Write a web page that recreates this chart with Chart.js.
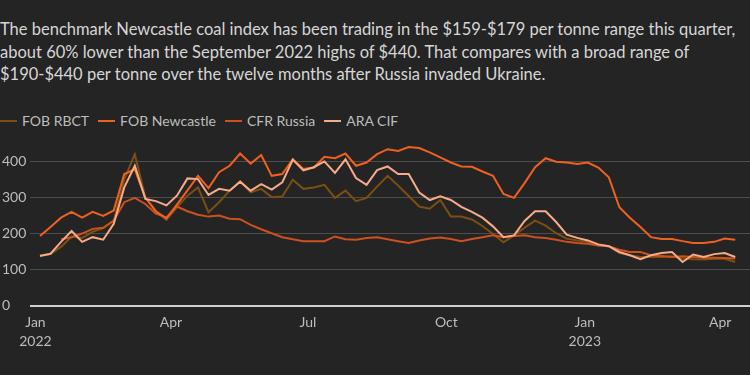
<!DOCTYPE html>
<html>
<head>
<meta charset="utf-8">
<script src="https://cdn.jsdelivr.net/npm/chart.js@4"></script>
<style>
  body {
    margin: 0;
    width: 750px;
    height: 375px;
    overflow: hidden;
    position: relative;
    background: #242424;
    font-family: Lato, "Noto Sans", sans-serif;
  }
  .subtitle {
    position: absolute;
    left: 0;
    top: 18px;
    font-size: 16.5px;
    line-height: 22.5px;
    color: #d6d6d6;
    white-space: nowrap;
  }
  .legend {
    position: absolute;
    left: 0;
    top: 112px;
    display: flex;
    align-items: center;
    font-size: 14px;
    color: #bdbdbd;
  }
  .legend span.item {
    display: flex;
    align-items: center;
    margin-right: 9px;
  }
  .legend i {
    display: inline-block;
    width: 17px;
    height: 2px;
    margin-right: 5px;
  }
  .chart-box {
    position: absolute;
    left: 0;
    top: 135px;
    width: 750px;
    height: 240px;
  }
</style>
</head>
<body>
<div class="subtitle">The benchmark Newcastle coal index has been trading in the $159-$179 per tonne range this quarter,<br>about 60% lower than the September 2022 highs of $440. That compares with a broad range of<br>$190-$440 per tonne over the twelve months after Russia invaded Ukraine.</div>
<div class="legend" id="legend"></div>
<div class="chart-box"><canvas id="coalChart" width="750" height="240"></canvas></div>
<script>
// weekly prices, $/tonne, first week starts 3 days into 2022
const firstDay = 3;
const weekStep = 7;

const fobRbct = [140, 143, 163, 192, 188, 205, 215, 235, 350, 420, 300, 262, 238, 273, 305, 328, 259, 287, 319, 345,
  314, 324, 301, 303, 349, 324, 328, 335, 299, 319, 290, 299, 330, 360, 333, 304, 275, 269, 293, 247,
  247, 239, 221, 199, 176, 195, 216, 236, 222, 201, 186, 181, 177, 167, 165, 146, 140, 135, 135, 135,
  137, 131, 129, 128, 130, 130, 121];

const fobNewcastle = [193, 218, 244, 260, 244, 260, 249, 264, 365, 378, 300, 262, 242, 280, 320, 360, 326, 370, 388, 422,
  394, 418, 360, 365, 406, 379, 383, 413, 409, 422, 388, 397, 420, 434, 429, 440, 437, 425, 411, 397,
  386, 385, 372, 360, 310, 299, 340, 384, 409, 399, 397, 393, 397, 383, 356, 273, 244, 218, 190, 185,
  185, 179, 174, 174, 177, 186, 183];

const cfrRussia = [null, null, 184, 190, 200, 213, 216, 236, 287, 299, 282, 255, 245, 275, 262, 252, 247, 250, 241, 240,
  224, 212, 201, 190, 184, 179, 179, 179, 192, 184, 183, 188, 190, 184, 179, 174, 181, 186, 189, 185,
  179, 185, 190, 195, 190, 193, 195, 190, 188, 183, 177, 174, 172, 167, 165, 155, 149, 149, 140, 138,
  135, 137, 135, 133, 133, 132, 131];

const araCif = [138, 144, 177, 207, 177, 190, 183, 227, 328, 388, 296, 290, 278, 305, 353, 351, 307, 324, 319, 344,
  319, 337, 322, 342, 405, 375, 384, 400, 368, 406, 354, 335, 376, 386, 365, 365, 314, 293, 303, 293,
  274, 260, 244, 220, 190, 195, 235, 262, 262, 232, 197, 188, 181, 170, 165, 149, 140, 129, 140, 146,
  149, 121, 142, 135, 143, 146, 135];

// x ticks in days since 1 Jan 2022
const xTickDays = [0, 90, 181, 273, 365, 455];
const xTickLabels = [["Jan", "2022"], "Apr", "Jul", "Oct", ["Jan", "2023"], "Apr"];
const yTicks = [0, 100, 200, 300, 400];

const series = [
  { label: "FOB RBCT", values: fobRbct, color: "#7b4f12", order: 3 },
  { label: "FOB Newcastle", values: fobNewcastle, color: "#f0601e", order: 1 },
  { label: "CFR Russia", values: cfrRussia, color: "#cc511c", order: 2 },
  { label: "ARA CIF", values: araCif, color: "#f7ab88", order: 0 },
];

const legend = document.getElementById("legend");
legend.innerHTML = series
  .map((s) => `<span class="item"><i style="background:${s.color}"></i>${s.label}</span>`)
  .join("");

const toPoints = (values) =>
  values.map((v, i) => ({ x: firstDay + i * weekStep, y: v }));

new Chart(document.getElementById("coalChart"), {
  type: "line",
  data: {
    datasets: series.map((s) => ({
      label: s.label,
      data: toPoints(s.values),
      borderColor: s.color,
      backgroundColor: s.color,
      borderWidth: 2,
      pointRadius: 0,
      tension: 0,
      order: s.order,
    })),
  },
  options: {
    responsive: false,
    animation: false,
    layout: { padding: { top: 7.6, right: 0, left: 2, bottom: 0 } },
    plugins: {
      legend: { display: false },
      tooltip: { enabled: false },
    },
    scales: {
      x: {
        type: "linear",
        min: -3.64,
        max: 474.8,
        afterBuildTicks: (axis) => {
          axis.ticks = xTickDays.map((v) => ({ value: v }));
        },
        afterFit: (axis) => {
          axis.height = 69.3;
        },
        grid: { display: false, drawTicks: false },
        border: { display: false },
        ticks: {
          autoSkip: false,
          maxRotation: 0,
          padding: 8,
          color: "#bdbdbd",
          font: { family: "Lato", size: 14, lineHeight: 1.3 },
          callback: (value) => xTickLabels[xTickDays.indexOf(value)],
        },
      },
      y: {
        min: 0,
        max: 450,
        afterBuildTicks: (axis) => {
          axis.ticks = yTicks.map((v) => ({ value: v }));
        },
        afterFit: (axis) => {
          axis.width = 28;
        },
        grid: {
          drawTicks: false,
          color: (ctx) => (ctx.tick && ctx.tick.value === 0 ? "#cfcfcf" : "#4d4d4d"),
          lineWidth: (ctx) => (ctx.tick && ctx.tick.value === 0 ? 2 : 1),
        },
        border: { display: false },
        ticks: {
          crossAlign: "far",
          padding: 0,
          color: "#bdbdbd",
          font: { family: "Lato", size: 14 },
        },
      },
    },
  },
});
</script>
</body>
</html>
